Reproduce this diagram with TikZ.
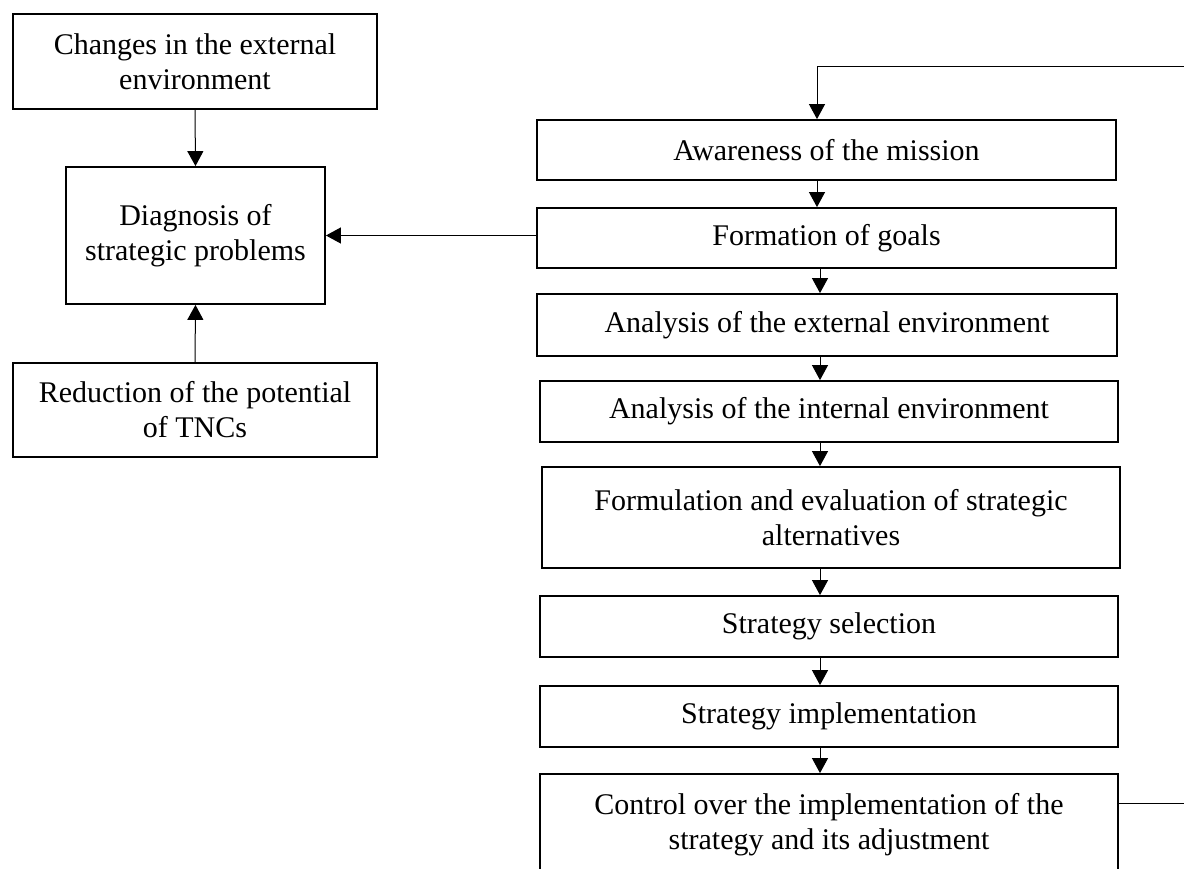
\documentclass[tikz,border=0pt]{standalone}
\usepackage{fontspec}
\setmainfont{Liberation Serif}
\usetikzlibrary{arrows.meta}
\begin{document}
\begin{tikzpicture}[x=1pt,y=-1pt,
  box/.style={draw, line width=1.8pt, inner sep=0pt, align=center,
    font=\fontsize{30}{35}\selectfont},
  conn/.style={line width=1pt, -{Triangle[length=15pt,width=16pt]}},
  plain/.style={line width=1pt}]
\useasboundingbox (0,0) rectangle (1184,869);
% left column
\node[box, minimum width=364pt, minimum height=95pt] (chg) at (195,61.5) {Changes in the external\\environment};
\node[box, minimum width=259pt, minimum height=137pt] (diag) at (195.5,235.5) {Diagnosis of\\strategic problems};
\node[box, minimum width=364pt, minimum height=94pt] (red) at (195,410) {Reduction of the potential\\of TNCs};
% right column
\node[box, minimum width=579pt, minimum height=60pt] (aw) at (826.5,150) {Awareness of the mission};
\node[box, minimum width=579pt, minimum height=60pt] (fg) at (826.5,238) {Formation of goals};
\node[box, minimum width=580pt, minimum height=62pt] (ae) at (827,325) {Analysis of the external environment};
\node[box, minimum width=578pt, minimum height=61pt] (ai) at (829,411.5) {Analysis of the internal environment};
\node[box, minimum width=578pt, minimum height=101pt] (fe) at (831,517.5) {Formulation and evaluation of strategic\\alternatives};
\node[box, minimum width=578pt, minimum height=61pt] (ss) at (829,626.5) {Strategy selection};
\node[box, minimum width=578pt, minimum height=61pt] (si) at (829,716.5) {Strategy implementation};
\node[box, minimum width=578pt, minimum height=102pt] (ctl) at (829,825) {Control over the implementation of the\\strategy and its adjustment};
% helper coordinates
\coordinate (ax) at (820,0);
\coordinate (tl) at (817,67);
\coordinate (tr) at (1184,67);
\coordinate (br) at (1184,803);
% connectors
\draw[conn] (chg.south) -- (diag.north);
\draw[conn] (red.north) -- (diag.south);
\draw[conn] (fg.west |- diag.east) -- (diag.east);
\draw[conn] (tr) -- (tl) -- (aw.north -| tl);
\draw[conn] (aw.south -| tl) -- (fg.north -| tl);
\draw[conn] (fg.south -| ax) -- (ae.north -| ax);
\draw[conn] (ae.south -| ax) -- (ai.north -| ax);
\draw[conn] (ai.south -| ax) -- (fe.north -| ax);
\draw[conn] (fe.south -| ax) -- (ss.north -| ax);
\draw[conn] (ss.south -| ax) -- (si.north -| ax);
\draw[conn] (si.south -| ax) -- (ctl.north -| ax);
\draw[plain] (ctl.east |- br) -- (br);
\end{tikzpicture}
\end{document}
